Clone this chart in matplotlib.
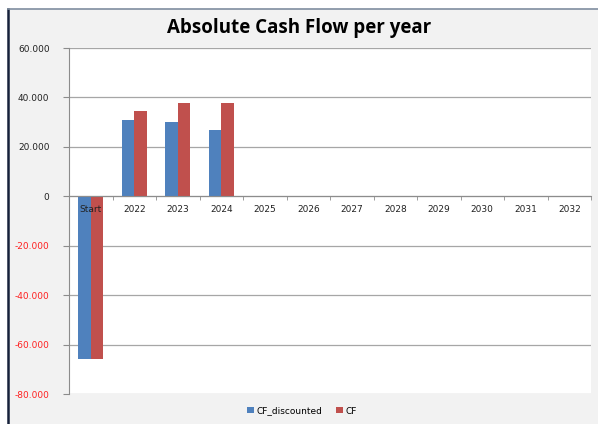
import numpy as np
import matplotlib.pyplot as plt
from matplotlib.patches import Rectangle
from matplotlib.lines import Line2D
from matplotlib.ticker import FuncFormatter, FixedLocator

categories = ["Start", "2022", "2023", "2024", "2025", "2026", "2027",
              "2028", "2029", "2030", "2031", "2032"]
cf_discounted = [-66000, 31000, 30200, 27000, 0, 0, 0, 0, 0, 0, 0, 0]
cf = [-66000, 34700, 37800, 37800, 0, 0, 0, 0, 0, 0, 0, 0]
yticks = [-80000, -60000, -40000, -20000, 0, 20000, 40000, 60000]

blue = '#4F81BD'
red = '#C0504D'

fig = plt.figure(figsize=(5.98, 4.24), dpi=100)
fig.patch.set_facecolor('white')
W, H = 598, 424

# chart area background and border
fig.patches.append(Rectangle((8 / W, 0), 1 - 8 / W, 1 - 9 / H, transform=fig.transFigure,
                             facecolor='#f2f2f2', edgecolor='none', zorder=-1))
fig.lines.append(Line2D([8 / W, 8 / W], [0, 1 - 9 / H], transform=fig.transFigure,
                        color='#16213a', lw=1.8, zorder=0.5))
fig.lines.append(Line2D([8 / W, 1], [1 - 9 / H, 1 - 9 / H], transform=fig.transFigure,
                        color='#7f8ea0', lw=1.2, zorder=0.5))

ax = fig.add_axes([69 / W, 1 - 394 / H, (591 - 69) / W, (394 - 48) / H])
ax.set_zorder(1)
ax.set_facecolor('white')

x = np.arange(len(categories))
w = 0.29
ax.bar(x - w / 2, cf_discounted, w, color=blue, label='CF_discounted', zorder=2)
ax.bar(x + w / 2, cf, w, color=red, label='CF', zorder=2)

ax.set_xlim(-0.5, len(categories) - 0.5)
ax.set_ylim(-80000, 60000)
ax.set_yticks(yticks)
ax.yaxis.set_major_formatter(FuncFormatter(lambda v, p: f"{int(v):,}".replace(',', '.')))
ax.yaxis.grid(True, color='#a6a6a6', lw=0.9)
ax.set_axisbelow(True)
ax.xaxis.set_zorder(5)

for s in ['top', 'right']:
    ax.spines[s].set_visible(False)
ax.spines['left'].set_color('#8c8c8c')
ax.spines['bottom'].set_position(('data', 0))
ax.spines['bottom'].set_color('#8c8c8c')
ax.spines['bottom'].set_zorder(5)

ax.set_xticks(x)
ax.set_xticklabels(categories)
ax.xaxis.set_minor_locator(FixedLocator(np.arange(-0.5, len(categories), 1)))
ax.tick_params(axis='x', which='major', length=0, pad=6, labelsize=6.5, labelcolor='#222222')
ax.tick_params(axis='x', which='minor', length=3, color='#8c8c8c', direction='out')
ax.tick_params(axis='y', length=4, color='#8c8c8c', labelsize=6.5, pad=10)
for t, v in zip(ax.get_yticklabels(), yticks):
    t.set_color('#ff2020' if v < 0 else '#222222')

fig.text(0.5, 1 - 28 / H, 'Absolute Cash Flow per year', ha='center', va='center',
         fontsize=13.5, fontweight='bold', family='Open Sans')

fig.legend(loc='center', bbox_to_anchor=(302 / W, 1 - 411 / H), ncol=2, frameon=False,
           fontsize=6.5, handlelength=0.8, handleheight=0.6, columnspacing=1.5, handletextpad=0.3)

fig.savefig('out.png', dpi=100, facecolor=fig.get_facecolor())
